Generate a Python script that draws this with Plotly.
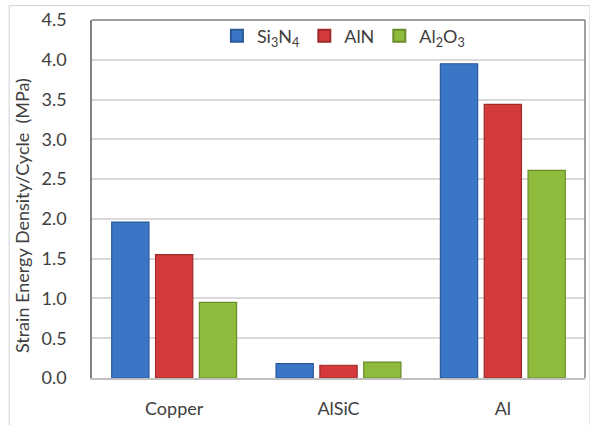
import plotly.graph_objects as go

# Substrate categories and strain energy density per cycle (MPa) for each ceramic
categories = ["Copper", "AlSiC", "Al"]
si3n4 = [1.96, 0.18, 3.95]
aln = [1.55, 0.16, 3.44]
al2o3 = [0.95, 0.20, 2.61]

series_names = ["Si<sub>3</sub>N<sub>4</sub>", "AlN", "Al<sub>2</sub>O<sub>3</sub>"]
series_values = [si3n4, aln, al2o3]
series_colors = ["#3a76c6", "#d43a3a", "#8fbb3c"]
edge_colors = ["#2b5a99", "#9e2a2a", "#6a8c2a"]

y_ticks = [0.0, 0.5, 1.0, 1.5, 2.0, 2.5, 3.0, 3.5, 4.0, 4.5]

FONT = "Lato, 'Open Sans', sans-serif"
TEXT = "#404040"

fig = go.Figure()
for name, vals, col, edge in zip(series_names, series_values, series_colors, edge_colors):
    fig.add_trace(go.Bar(
        x=categories, y=vals, name=name,
        marker=dict(color=col, line=dict(color=edge, width=1.2)),
    ))

fig.update_layout(
    width=590, height=425,
    margin=dict(l=92, r=5, t=20, b=47),
    paper_bgcolor="white", plot_bgcolor="white",
    barmode="group", bargap=0.2, bargroupgap=0.15,
    font=dict(family=FONT, size=17, color=TEXT),
    showlegend=True,
    legend=dict(
        orientation="h", x=0.51, y=0.955, xanchor="center", yanchor="middle",
        bgcolor="rgba(0,0,0,0)", font=dict(size=18, color=TEXT),
        itemwidth=30, tracegroupgap=0, itemsizing="constant",
    ),
    xaxis=dict(
        showline=True, linecolor="#bfbfbf", linewidth=1.5, mirror=False,
        ticks="", ticklabelstandoff=14,
        tickfont=dict(size=18, color=TEXT),
    ),
    yaxis=dict(
        range=[0, 4.5], tickvals=y_ticks, tickformat=".1f",
        showgrid=True, gridcolor="#d9d9d9", gridwidth=1.5,
        showline=True, linecolor="#808080", linewidth=1.5,
        ticks="", ticklabelstandoff=20, zeroline=False,
        tickfont=dict(size=18, color=TEXT),
    ),
    shapes=[
        # top and right border of the plotting area
        dict(type="line", xref="paper", yref="paper", x0=0, x1=1, y0=1, y1=1,
             line=dict(color="#808080", width=1.5)),
        dict(type="line", xref="paper", yref="paper", x0=1, x1=1, y0=0, y1=1,
             line=dict(color="#808080", width=1.5)),
        # outer chart frame
        dict(type="rect", xref="paper", yref="paper",
             x0=-0.168, x1=1.01, y0=-0.2, y1=1.04,
             line=dict(color="#d9d9d9", width=1.2)),
    ],
    annotations=[
        dict(text="Strain Energy Density/Cycle  (MPa)", xref="paper", yref="paper",
             x=-0.142, y=0.455, xanchor="center", yanchor="middle", textangle=-90,
             showarrow=False, font=dict(size=18, color=TEXT)),
    ],
)

fig.write_html("out.html")
